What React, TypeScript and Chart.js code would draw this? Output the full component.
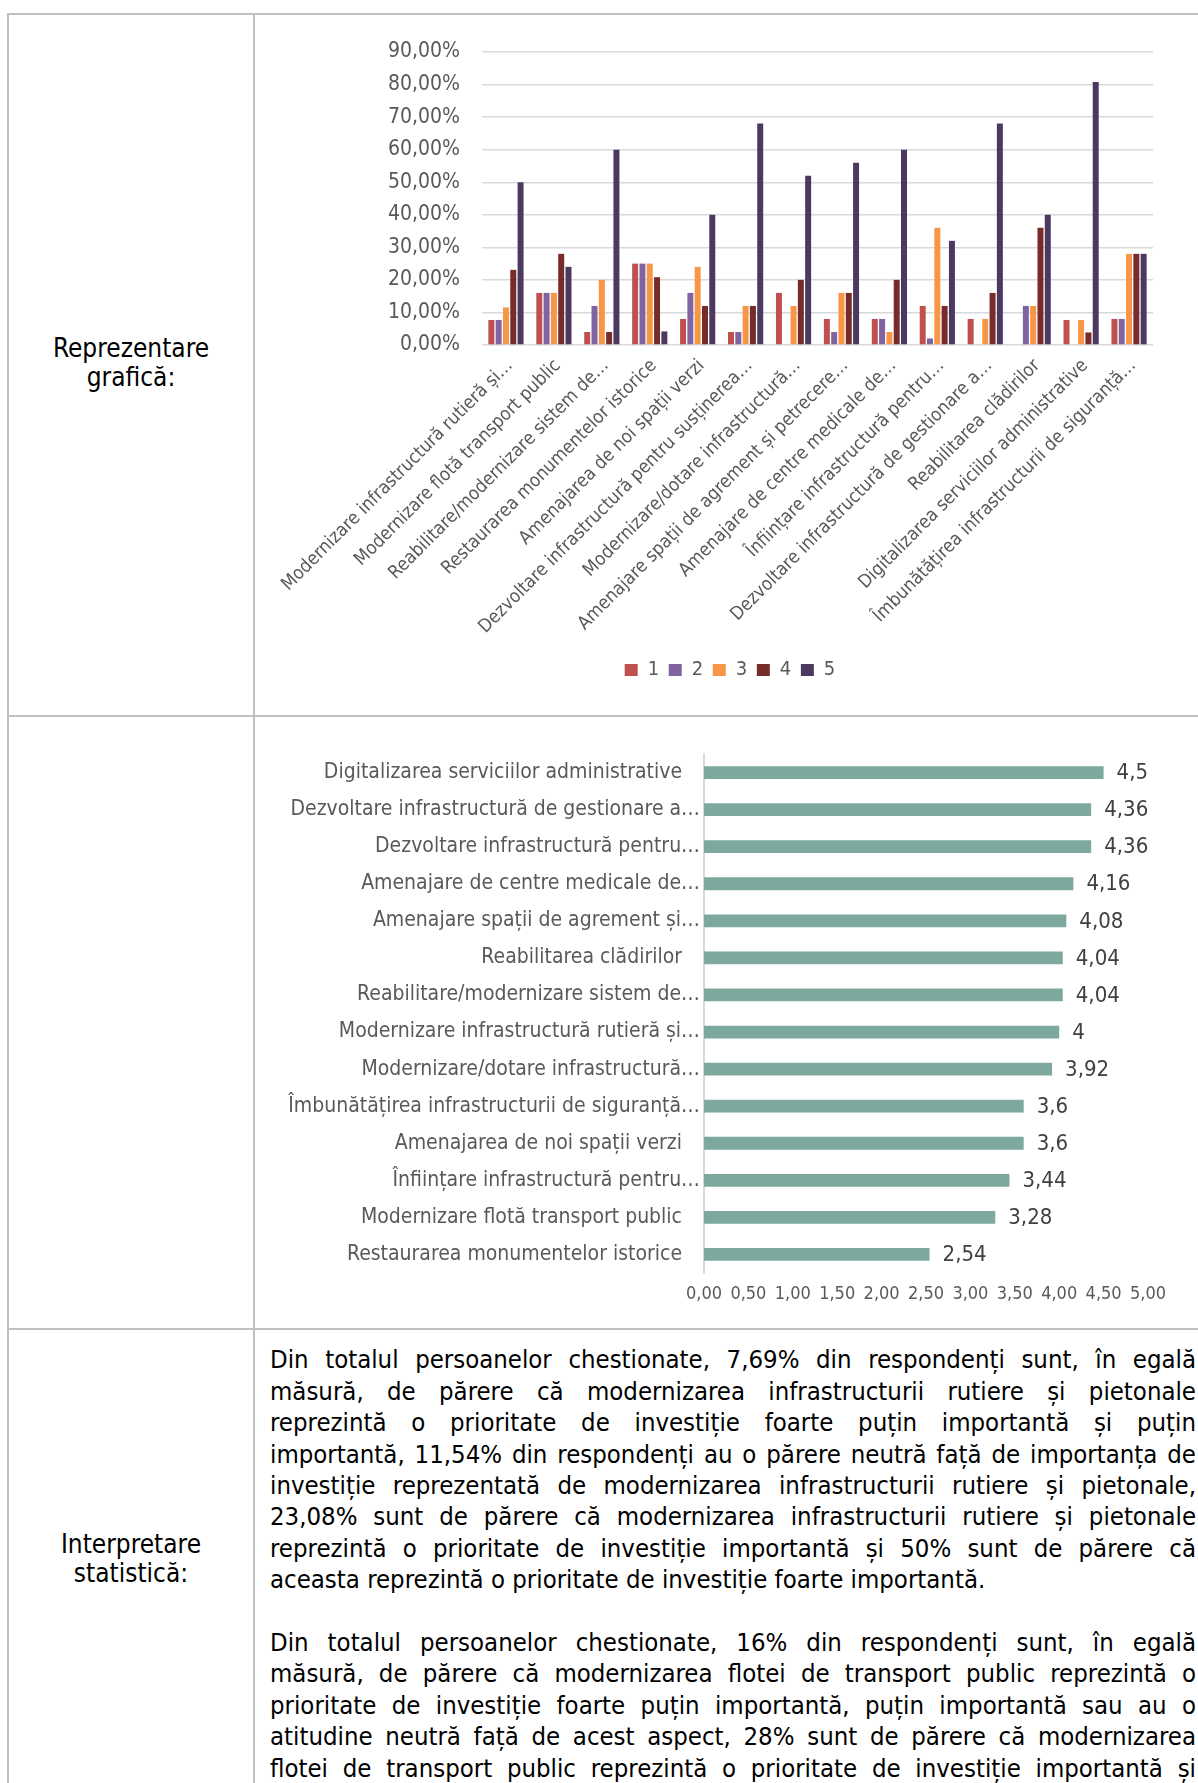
import React, { useEffect, useRef } from 'react';
import { Chart, registerables } from 'chart.js';

Chart.register(...registerables);

// ---------- Top chart data (percent of respondents per score) ----------
const topCategories = [
  'Modernizare infrastructură rutieră și…',
  'Modernizare flotă transport public',
  'Reabilitare/modernizare sistem de…',
  'Restaurarea monumentelor istorice',
  'Amenajarea de noi spații verzi',
  'Dezvoltare infrastructură pentru susținerea…',
  'Modernizare/dotare infrastructură…',
  'Amenajare spații de agrement și petrecere…',
  'Amenajare de centre medicale de…',
  'Înființare infrastructură pentru…',
  'Dezvoltare infrastructură de gestionare a…',
  'Reabilitarea clădirilor',
  'Digitalizarea serviciilor administrative',
  'Îmbunătățirea infrastructurii de siguranță…',
];
const score1 = [7.69, 16, 4, 25, 8, 4, 16, 8, 8, 12, 8, 0, 7.69, 8];
const score2 = [7.69, 16, 12, 25, 16, 4, 0, 4, 8, 2, 0, 12, 0, 8];
const score3 = [11.54, 16, 20, 25, 24, 12, 12, 16, 4, 36, 8, 12, 7.69, 28];
const score4 = [23.08, 28, 4, 20.83, 12, 12, 20, 16, 20, 12, 16, 36, 3.85, 28];
const score5 = [50, 24, 60, 4.17, 40, 68, 52, 56, 60, 32, 68, 40, 80.77, 28];
const scoreNames = ['1', '2', '3', '4', '5'];
const scoreColors = ['#c0504d', '#8064a2', '#f79646', '#772c2a', '#4b3961'];

// ---------- Bottom chart data (average score) ----------
const avgCategories = [
  'Digitalizarea serviciilor administrative   ',
  'Dezvoltare infrastructură de gestionare a…',
  'Dezvoltare infrastructură pentru…',
  'Amenajare de centre medicale de…',
  'Amenajare spații de agrement și…',
  'Reabilitarea clădirilor   ',
  'Reabilitare/modernizare sistem de…',
  'Modernizare infrastructură rutieră și…',
  'Modernizare/dotare infrastructură…',
  'Îmbunătățirea infrastructurii de siguranță…',
  'Amenajarea de noi spații verzi   ',
  'Înființare infrastructură pentru…',
  'Modernizare flotă transport public   ',
  'Restaurarea monumentelor istorice   ',
];
const avgValues = [4.5, 4.36, 4.36, 4.16, 4.08, 4.04, 4.04, 4, 3.92, 3.6, 3.6, 3.44, 3.28, 2.54];

// ---------- Text ----------
const paragraph1 = [
  'Din totalul persoanelor chestionate, 7,69% din respondenți sunt, în egală',
  'măsură, de părere că modernizarea infrastructurii rutiere și pietonale',
  'reprezintă o prioritate de investiție foarte puțin importantă și puțin',
  'importantă, 11,54% din respondenți au o părere neutră față de importanța de',
  'investiție reprezentată de modernizarea infrastructurii rutiere și pietonale,',
  '23,08% sunt de părere că modernizarea infrastructurii rutiere și pietonale',
  'reprezintă o prioritate de investiție importantă și 50% sunt de părere că',
  'aceasta reprezintă o prioritate de investiție foarte importantă.',
];
const paragraph2 = [
  'Din totalul persoanelor chestionate, 16% din respondenți sunt, în egală',
  'măsură, de părere că modernizarea flotei de transport public reprezintă o',
  'prioritate de investiție foarte puțin importantă, puțin importantă sau au o',
  'atitudine neutră față de acest aspect, 28% sunt de părere că modernizarea',
  'flotei de transport public reprezintă o prioritate de investiție importantă și',
];

const COND = '"DejaVu Sans Condensed", "DejaVu Sans", sans-serif';
const GREY_TEXT = '#595959';
const BORDER = '#bfbfbf';

function fmtComma(v: number, digits: number) {
  return Number(v).toFixed(digits).replace('.', ',');
}

function TopChart() {
  const ref = useRef<HTMLCanvasElement>(null);
  useEffect(() => {
    const seriesData = [score1, score2, score3, score4, score5];
    const chart = new Chart(ref.current as HTMLCanvasElement, {
      type: 'bar',
      data: {
        labels: topCategories,
        datasets: seriesData.map((d, i) => ({
          label: scoreNames[i],
          data: d,
          backgroundColor: scoreColors[i],
          borderWidth: 0,
          categoryPercentage: 0.762,
          barPercentage: 0.82,
        })),
      },
      options: {
        animation: false,
        responsive: false,
        maintainAspectRatio: false,
        layout: { padding: { left: 47, right: 37, top: 36, bottom: 10 } },
        plugins: {
          tooltip: { enabled: false },
          legend: {
            position: 'bottom',
            labels: {
              boxWidth: 13,
              boxHeight: 12,
              padding: 9.6,
              color: GREY_TEXT,
              font: { family: COND, size: 20 },
            },
          },
        },
        scales: {
          x: {
            grid: { display: false, drawTicks: false },
            border: { display: false },
            ticks: {
              autoSkip: false,
              minRotation: 45,
              maxRotation: 45,
              padding: 10,
              labelOffset: 4,
              color: GREY_TEXT,
              font: { family: COND, size: 18.5 },
            },
            afterFit: (s: any) => {
              s.height = 305.4;
              s.paddingLeft = 0;
              s.paddingRight = 0;
            },
          },
          y: {
            min: 0,
            max: 90,
            ticks: {
              stepSize: 10,
              padding: 22,
              color: GREY_TEXT,
              font: { family: COND, size: 21 },
              callback: (v: any) => fmtComma(Number(v), 2) + '%',
            },
            grid: { color: '#d9d9d9', lineWidth: 1.4, drawTicks: false },
            border: { display: false },
            afterFit: (s: any) => {
              s.width = 175;
            },
          },
        },
      },
    });
    return () => chart.destroy();
  }, []);
  return (
    <canvas
      ref={ref}
      width={930}
      height={684}
      style={{ position: 'absolute', left: 260, top: 16, width: 930, height: 684 }}
    />
  );
}

const valueLabelPlugin = {
  id: 'valueLabels',
  afterDatasetsDraw(chart: any) {
    const ctx = chart.ctx as CanvasRenderingContext2D;
    const meta = chart.getDatasetMeta(0);
    const data = chart.data.datasets[0].data as number[];
    ctx.save();
    ctx.font = `22px ${COND}`;
    ctx.fillStyle = '#404040';
    ctx.textAlign = 'left';
    ctx.textBaseline = 'middle';
    meta.data.forEach((bar: any, i: number) => {
      ctx.fillText(String(data[i]).replace('.', ','), bar.x + 13, bar.y + 1);
    });
    ctx.restore();
  },
};

function BottomChart() {
  const ref = useRef<HTMLCanvasElement>(null);
  useEffect(() => {
    const chart = new Chart(ref.current as HTMLCanvasElement, {
      type: 'bar',
      data: {
        labels: avgCategories,
        datasets: [
          {
            label: 'Medie',
            data: avgValues,
            backgroundColor: '#7ca89e',
            borderWidth: 0,
            categoryPercentage: 1,
            barPercentage: 0.345,
          },
        ],
      },
      plugins: [valueLabelPlugin],
      options: {
        indexAxis: 'y',
        animation: false,
        responsive: false,
        maintainAspectRatio: false,
        layout: { padding: { left: 0, right: 42, top: 29, bottom: 0 } },
        plugins: { legend: { display: false }, tooltip: { enabled: false } },
        scales: {
          x: {
            min: 0,
            max: 5,
            grid: { display: false, drawTicks: false },
            border: { display: false },
            ticks: {
              stepSize: 0.5,
              padding: 11,
              color: GREY_TEXT,
              font: { family: COND, size: 18 },
              callback: (v: any) => fmtComma(Number(v), 2),
            },
            afterFit: (s: any) => {
              s.height = 47;
              s.paddingLeft = 0;
              s.paddingRight = 0;
            },
          },
          y: {
            grid: { display: false, drawTicks: false },
            border: { display: true, color: '#d9d9d9', width: 2 },
            ticks: {
              autoSkip: false,
              padding: 4,
              color: GREY_TEXT,
              font: { family: COND, size: 21 },
            },
            afterFit: (s: any) => {
              s.width = 444;
              s.paddingTop = 0;
              s.paddingBottom = 0;
            },
          },
        },
      },
    });
    return () => chart.destroy();
  }, []);
  return (
    <canvas
      ref={ref}
      width={930}
      height={595}
      style={{ position: 'absolute', left: 260, top: 725, width: 930, height: 595 }}
    />
  );
}

function Line(props: { left: number; top: number; width: number; height: number }) {
  return (
    <div
      style={{
        position: 'absolute',
        left: props.left,
        top: props.top,
        width: props.width,
        height: props.height,
        background: BORDER,
      }}
    />
  );
}

function CellLabel(props: { text: string; center: number }) {
  return (
    <div
      style={{
        position: 'absolute',
        left: 9,
        width: 244,
        top: props.center - 15,
        height: 30,
        lineHeight: '30px',
        textAlign: 'center',
        fontFamily: COND,
        fontSize: 26,
        color: '#000',
        whiteSpace: 'nowrap',
      }}
    >
      {props.text}
    </div>
  );
}

function TextLine(props: { text: string; center: number; justify: boolean }) {
  return (
    <div
      style={{
        position: 'absolute',
        left: 270,
        width: 926,
        top: props.center - 15.7,
        height: 31.4,
        lineHeight: '31.4px',
        fontFamily: COND,
        fontSize: 25.5,
        color: '#000',
        textAlign: props.justify ? 'justify' : 'left',
        textAlignLast: props.justify ? 'justify' : 'left',
      } as React.CSSProperties}
    >
      {props.text}
    </div>
  );
}

export default function App() {
  useEffect(() => {
    document.documentElement.style.overflow = 'hidden';
  }, []);
  const lineStep = 31.4;
  const firstLine = 1360;
  return (
    <div
      style={{
        position: 'absolute',
        left: 0,
        top: 0,
        width: 1198,
        height: 1783,
        overflow: 'hidden',
        background: '#ffffff',
      }}
    >
      <Line left={7} top={13} width={1200} height={2} />
      <Line left={7} top={13} width={2} height={1780} />
      <Line left={253} top={13} width={2} height={1780} />
      <Line left={7} top={715} width={1200} height={2} />
      <Line left={7} top={1328} width={1200} height={2} />

      <CellLabel text="Reprezentare" center={348} />
      <CellLabel text="grafică:" center={376.5} />
      <CellLabel text="Interpretare" center={1544} />
      <CellLabel text="statistică:" center={1573} />

      <TopChart />
      <BottomChart />

      {paragraph1.map((t, i) => (
        <TextLine
          key={'p1' + i}
          text={t}
          center={firstLine + i * lineStep}
          justify={i < paragraph1.length - 1}
        />
      ))}
      {paragraph2.map((t, i) => (
        <TextLine
          key={'p2' + i}
          text={t}
          center={firstLine + (paragraph1.length + 1 + i) * lineStep}
          justify={true}
        />
      ))}
    </div>
  );
}
